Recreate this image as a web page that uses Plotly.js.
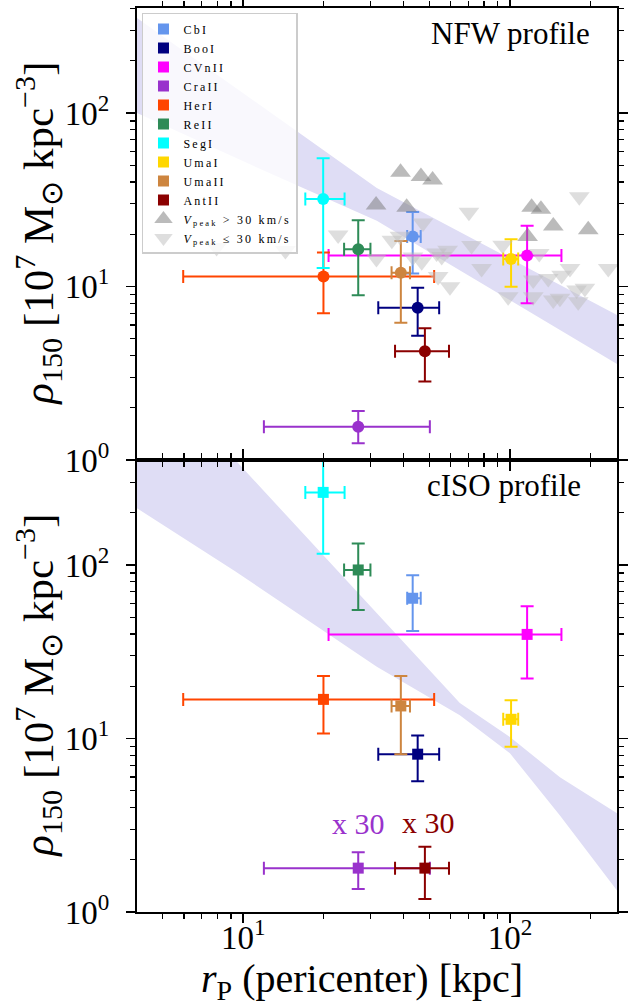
<!DOCTYPE html>
<html><head><meta charset="utf-8">
<script src="https://cdn.plot.ly/plotly-3.0.1.min.js"></script>
<style>body{margin:0;background:#fff}#chart{width:633px;height:1008px}.legendtext{letter-spacing:2.2px}</style>
</head><body><div id="chart"></div>
<script>
// ---- data ----
const names  = ['CbI','BooI','CVnII','CraII','HerI','ReII','SegI','UmaI','UmaII','AntII'];
const colors = ['#6495ED','#000080','#FF00FF','#9932CC','#FF4500','#2E8B57','#00FFFF','#FFD700','#CD853F','#8B0000'];
const rp     = [43.2, 45.1, 116, 27.0, 20.0, 27.0, 19.95, 101, 39.0, 48.0];
const rpLo   = [41.2, 32.1, 20.9, 11.96, 5.96, 23.9, 17.1, 94.4, 36.0, 37.1];
const rpHi   = [46.3, 54.3, 156, 50.1, 52.0, 30.0, 24.0, 107.4, 42.2, 59.1];
// NFW profile (top panel)
const rhoNFW   = [19.4, 7.55, 15.1, 1.556, 11.4, 16.4, 31.9, 14.4, 12.0, 4.23];
const rhoNFWLo = [11.9, 5.2, 8.0, 1.248, 7.0, 8.9, 12.8, 9.97, 6.18, 2.83];
const rhoNFWHi = [26.9, 9.84, 22.4, 1.917, 15.7, 24.1, 54.8, 18.7, 18.3, 5.74];
// cISO profile (bottom panel)
const rhoISO   = [64.3, 8.12, 39.8, 1.79, 16.8, 93.6, 262, 12.9, 15.4, 1.79];
const rhoISOLo = [41.6, 5.67, 22.2, 1.355, 10.7, 55, 116, 8.95, 8.12, 1.187];
const rhoISOHi = [87.2, 10.4, 57.9, 2.21, 22.9, 133, 600, 16.6, 22.9, 2.38];
// simulated subhaloes (top panel)
const hiVpX = [38.9, 46.4, 51.3, 31.5, 41.0, 120.6, 130.7, 145.4, 196.6, 116.5];
const hiVpY = [45.5, 43.0, 41.1, 29.5, 28.6, 28.6, 27.9, 22.3, 21.2, 19.4];
const loVpX = [7.95, 14.4, 22.7, 47.2, 38.7, 31.6, 43.3, 46.7, 53.1, 55.5, 53.8, 59.6, 70.2, 71.8, 78.3, 93.9, 98.5, 122.3, 128.8, 139.2, 156.3, 167.9, 122.3, 145.4, 154, 177.8, 191, 180.3, 233.7, 182, 36.1, 58.4];
const loVpY = [16.8, 16.1, 19.8, 23.2, 19.5, 14.5, 14.8, 13.9, 15.6, 14.9, 11.4, 9.98, 26.8, 17.2, 12.7, 17.3, 8.73, 10.9, 15.5, 11.1, 11.6, 12.7, 8.73, 8.36, 8.55, 9.55, 9.77, 8.17, 12.7, 32.9, 18.5, 16.2];
// shaded relations
const bandNFWx  = [4.0, 11.26, 31.7, 89.3, 252];
const bandNFWhi = [353, 114.2, 37.0, 15.9, 6.86];
const bandNFWlo = [100, 48.5, 23.9, 9.29, 3.57];
const bandISOx  = [4.0, 9.33, 31.7, 64.9, 100, 154, 252];
const bandISOhi = [1652, 403, 52.8, 16.0, 10.2, 5.98, 3.71];
const bandISOlo = [212, 92, 25.9, 13.6, 8.22, 3.60, 1.332];
const xTickVals = [10, 100];
const xTickText = ['10<sup>1</sup>', '10<sup>2</sup>'];
const yTickVals = [1, 10, 100];
const yTickText = ['10<sup>0</sup>', '10<sup>1</sup>', '10<sup>2</sup>'];

const FONT = 'Liberation Serif, Times New Roman, serif';
const bandColor = 'rgb(223,221,245)';

function minorVals(lo, hi) {
  const v = [];
  for (let d = 1; d <= 1000; d *= 10)
    for (let m = 2; m <= 9; m++) { const t = m * d / 10; if (t > lo && t < hi) v.push(t); }
  return v;
}

const traces = [];
function band(x, hi, lo, xa, ya) {
  traces.push({
    x: x.concat(x.slice().reverse()), y: hi.concat(lo.slice().reverse()),
    xaxis: xa, yaxis: ya, mode: 'lines', fill: 'toself', fillcolor: bandColor,
    line: {width: 0, color: bandColor}, showlegend: false, hoverinfo: 'skip'
  });
}
band(bandNFWx, bandNFWhi, bandNFWlo, 'x2', 'y2');
band(bandISOx, bandISOhi, bandISOlo, 'x', 'y');

function errX(i) {
  return {type: 'data', symmetric: false, array: [rpHi[i] - rp[i]], arrayminus: [rp[i] - rpLo[i]],
          color: colors[i], thickness: 2, width: 6.5};
}
names.forEach((n, i) => {
  traces.push({
    x: [rp[i]], y: [rhoNFW[i]], xaxis: 'x2', yaxis: 'y2', mode: 'markers', name: n, showlegend: false,
    marker: {symbol: 'circle', size: 12, color: colors[i]},
    error_x: errX(i),
    error_y: {type: 'data', symmetric: false, array: [rhoNFWHi[i] - rhoNFW[i]], arrayminus: [rhoNFW[i] - rhoNFWLo[i]],
              color: colors[i], thickness: 2, width: 6.5}
  });
});
names.forEach((n, i) => {
  traces.push({
    x: [rp[i]], y: [rhoISO[i]], xaxis: 'x', yaxis: 'y', mode: 'markers', name: n, showlegend: true,
    marker: {symbol: 'square', size: 11, color: colors[i]},
    error_x: errX(i),
    error_y: {type: 'data', symmetric: false, array: [rhoISOHi[i] - rhoISO[i]], arrayminus: [rhoISO[i] - rhoISOLo[i]],
              color: colors[i], thickness: 2, width: 6.5}
  });
});
traces.push({
  x: hiVpX, y: hiVpY, xaxis: 'x2', yaxis: 'y2', mode: 'markers',
  name: '<i>V</i><sub>peak</sub> > 30 km/s',
  marker: {symbol: 'triangle-up', size: 18, color: 'rgba(120,120,120,0.5)'}
});
traces.push({
  x: loVpX, y: loVpY, xaxis: 'x2', yaxis: 'y2', mode: 'markers',
  name: '<i>V</i><sub>peak</sub> ≤ 30 km/s',
  marker: {symbol: 'triangle-down', size: 18, color: 'rgba(190,190,190,0.5)'}
});

const xRange = [Math.log10(4), Math.log10(252)];
const yRange = [0, 2.605];
function minorSpec(lo, hi) {
  return {tickmode: 'array', tickvals: minorVals(lo, hi), ticks: 'outside', ticklen: 5, tickwidth: 1.2, tickcolor: 'black', showgrid: false};
}
function axisBase() {
  return {
    type: 'log', showline: true, linecolor: 'black', linewidth: 2, mirror: 'ticks',
    ticks: 'outside', ticklen: 9, tickwidth: 1.5, tickcolor: 'black',
    showgrid: false, zeroline: false, tickmode: 'array',
    tickfont: {family: FONT, size: 33, color: 'black'}
  };
}
const xaxis = Object.assign(axisBase(), {
  range: xRange, anchor: 'y', domain: [0, 1], tickvals: xTickVals, ticktext: xTickText,
  minor: minorSpec(4, 252), ticklabelstandoff: -14
});
const xaxis2 = Object.assign(axisBase(), {
  range: xRange, anchor: 'y2', domain: [0, 1], matches: 'x', tickvals: xTickVals, ticktext: xTickText,
  showticklabels: false, minor: minorSpec(4, 252)
});
function yax(domain, anchor) {
  return Object.assign(axisBase(), {
    range: yRange, domain: domain, anchor: anchor, tickvals: yTickVals, ticktext: yTickText,
    minor: minorSpec(1, 403), ticklabelstandoff: 10
  });
}
const yTitle = '<i>ρ</i><sub>150</sub> [10<sup>7</sup> M<sub>⊙</sub> kpc<sup>−3</sup>]';
const titleFont = {family: FONT, size: 43, color: 'black'};

const layout = {
  width: 633, height: 1008, margin: {l: 137, r: 16, t: 8, b: 96},
  paper_bgcolor: 'white', plot_bgcolor: 'white', font: {family: FONT, color: 'black'},
  xaxis: xaxis, xaxis2: xaxis2, yaxis: yax([0, 0.5], 'x'), yaxis2: yax([0.5, 1], 'x2'),
  showlegend: true,
  legend: {x: 0.0104, y: 0.9945, xanchor: 'left', yanchor: 'top', bgcolor: 'rgba(255,255,255,0.8)',
           bordercolor: '#cccccc', borderwidth: 1.5, font: {family: FONT, size: 12, color: 'black'},
           tracegroupgap: 0},
  annotations: [
    {text: '<i>r</i><sub>P</sub> (pericenter) [kpc]', xref: 'paper', yref: 'paper', x: 0.469, y: -0.0762,
     xanchor: 'center', yanchor: 'middle', showarrow: false, font: {family: FONT, size: 40, color: 'black'}},
    {text: yTitle, xref: 'paper', yref: 'paper', x: -0.207, y: 0.75, textangle: -90,
     xanchor: 'center', yanchor: 'middle', showarrow: false, font: titleFont},
    {text: yTitle, xref: 'paper', yref: 'paper', x: -0.207, y: 0.25, textangle: -90,
     xanchor: 'center', yanchor: 'middle', showarrow: false, font: titleFont},
    {text: 'NFW profile', xref: 'paper', yref: 'paper', x: 0.948, y: 0.9723, xanchor: 'right', yanchor: 'middle',
     showarrow: false, font: {family: FONT, size: 31, color: 'black'}},
    {text: 'cISO profile', xref: 'paper', yref: 'paper', x: 0.929, y: 0.4723, xanchor: 'right', yanchor: 'middle',
     showarrow: false, font: {family: FONT, size: 31, color: 'black'}},
    {text: 'x 30', xref: 'x', yref: 'y', x: Math.log10(rp[3]), y: Math.log10(3.23), showarrow: false,
     font: {family: FONT, size: 30, color: colors[3]}},
    {text: 'x 30', xref: 'x', yref: 'y', x: Math.log10(rp[9] * 1.03), y: Math.log10(3.3), showarrow: false,
     font: {family: FONT, size: 30, color: colors[9]}}
  ]
};
Plotly.newPlot('chart', traces, layout, {staticPlot: true});
</script></body></html>
